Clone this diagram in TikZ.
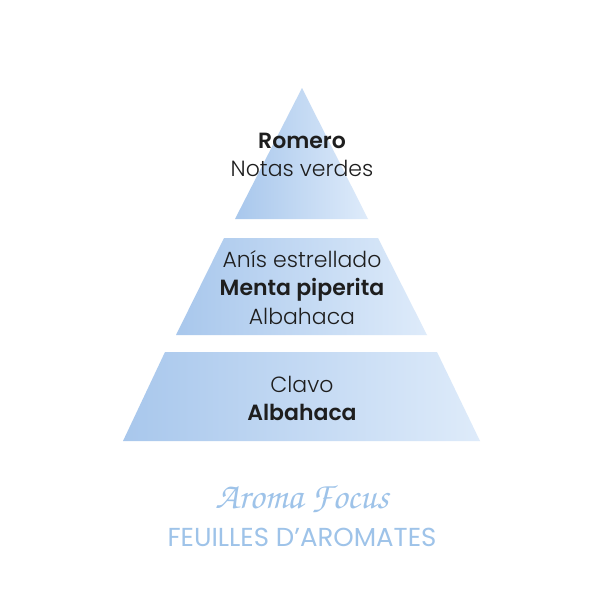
\documentclass[tikz,border=0pt]{standalone}
\usepackage{fontspec}
\IfFontExistsTF{Poppins Light}{\IfFontExistsTF{Poppins SemiBold}{\setmainfont{Poppins}[UprightFont={* Light},BoldFont={* SemiBold}]}{\setmainfont{Poppins}[UprightFont={* Light},BoldFont={* Medium}]}}{\setmainfont{Poppins}}
\newfontfamily\titlefont{Poppins}
\definecolor{bluedark}{RGB}{168,199,236}
\definecolor{bluelight}{RGB}{222,235,250}
\definecolor{titleblue}{RGB}{158,195,233}
\definecolor{ink}{RGB}{30,30,30}
\tikzset{
  layer/.style={left color=bluedark, right color=bluelight},
  lbl/.style={font=\fontsize{22}{26}\selectfont, text=ink, inner sep=0pt, anchor=base},
  lblb/.style={lbl, font=\fontsize{22}{26}\selectfont\bfseries},
}
\begin{document}
\begin{tikzpicture}[x=1pt,y=-1pt]
\useasboundingbox[fill=white] (0,0) rectangle (600,600);
\shade[layer] (302,88) -- (368,219) -- (235,219) -- cycle;
\shade[layer] (224,238) -- (378,238) -- (427,335) -- (176,335) -- cycle;
\shade[layer] (165,352) -- (437,352) -- (480,441) -- (123,441) -- cycle;
\node[lblb] (romero) at (302,148) {Romero};
\node[lbl] (notas) at (302,176) {Notas verdes};
\node[lbl] (anis) at (302,267) {Anís estrellado};
\node[lblb] (menta) at (302,295) {Menta piperita};
\node[lbl] (alb1) at (302,324) {Albahaca};
\node[lbl] (clavo) at (302,392) {Clavo};
\node[lblb] (alb2) at (302,420) {Albahaca};
\node[inner sep=0pt, anchor=base, text=titleblue, font=\fontencoding{OT1}\fontfamily{pzc}\fontseries{mb}\fontshape{it}\fontsize{37}{42}\selectfont] (aroma) at (302,508) {Aroma Focus};
\node[inner sep=0pt, anchor=base, text=titleblue, font=\titlefont\fontsize{26}{30}\selectfont] (feuilles) at (302,546) {FEUILLES D’AROMATES};
\end{tikzpicture}
\end{document}
